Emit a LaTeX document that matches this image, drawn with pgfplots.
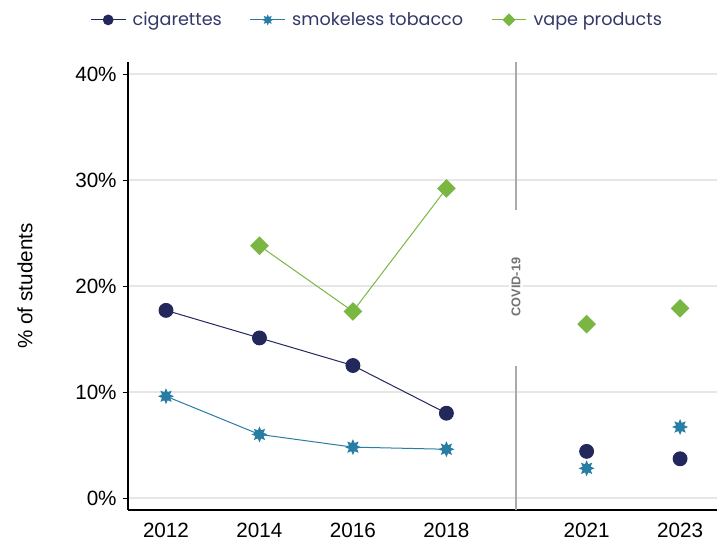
\documentclass[border=0pt]{standalone}
\usepackage{fontspec}
\setmainfont{Liberation Sans}
\newfontfamily\legfont{Poppins}
\usepackage{pgfplots}
\pgfplotsset{compat=1.18}
\usetikzlibrary{plotmarks}
\definecolor{cig}{RGB}{35,40,92}
\definecolor{legtext}{RGB}{50,56,104}
\definecolor{smk}{RGB}{40,125,165}
\definecolor{vape}{RGB}{122,182,66}
\definecolor{gridc}{RGB}{230,230,230}
\definecolor{covid}{RGB}{170,170,170}
\pgfdeclareplotmark{star8}{%
\pgfpathmoveto{\pgfpointpolar{90}{\pgfplotmarksize}}%
\pgfpathlineto{\pgfpointpolar{112.5}{0.55\pgfplotmarksize}}%
\pgfpathlineto{\pgfpointpolar{135}{\pgfplotmarksize}}%
\pgfpathlineto{\pgfpointpolar{157.5}{0.55\pgfplotmarksize}}%
\pgfpathlineto{\pgfpointpolar{180}{\pgfplotmarksize}}%
\pgfpathlineto{\pgfpointpolar{202.5}{0.55\pgfplotmarksize}}%
\pgfpathlineto{\pgfpointpolar{225}{\pgfplotmarksize}}%
\pgfpathlineto{\pgfpointpolar{247.5}{0.55\pgfplotmarksize}}%
\pgfpathlineto{\pgfpointpolar{270}{\pgfplotmarksize}}%
\pgfpathlineto{\pgfpointpolar{292.5}{0.55\pgfplotmarksize}}%
\pgfpathlineto{\pgfpointpolar{315}{\pgfplotmarksize}}%
\pgfpathlineto{\pgfpointpolar{337.5}{0.55\pgfplotmarksize}}%
\pgfpathlineto{\pgfpointpolar{0}{\pgfplotmarksize}}%
\pgfpathlineto{\pgfpointpolar{22.5}{0.55\pgfplotmarksize}}%
\pgfpathlineto{\pgfpointpolar{45}{\pgfplotmarksize}}%
\pgfpathlineto{\pgfpointpolar{67.5}{0.55\pgfplotmarksize}}%
\pgfpathclose
\pgfusepathqfill}
\pgfdeclareplotmark{sdiamond}{%
\pgfpathmoveto{\pgfqpoint{0pt}{\pgfplotmarksize}}%
\pgfpathlineto{\pgfqpoint{\pgfplotmarksize}{0pt}}%
\pgfpathlineto{\pgfqpoint{0pt}{-\pgfplotmarksize}}%
\pgfpathlineto{\pgfqpoint{-\pgfplotmarksize}{0pt}}%
\pgfpathclose
\pgfusepathqfill}
\begin{document}
\begin{tikzpicture}
\begin{axis}[
  name=ax,
  scale only axis,
  width=441.75pt, height=336pt,
  xmin=2011.187, xmax=2023.79,
  ymin=-1.13, ymax=41.13,
  axis lines=left,
  axis line style={-, black, line width=0.8pt},
  xtick={2012,2014,2016,2018,2021,2023},
  xticklabels={2012,2014,2016,2018,2021,2023},
  ytick={0,10,20,30,40},
  yticklabels={0\%,10\%,20\%,30\%,40\%},
  x tick style={draw=none},
  y tick style={black, line width=0.6pt},
  tick align=outside,
  major tick length=4pt,
  ymajorgrids,
  grid style={gridc, line width=1.1pt},
  tick label style={font=\fontsize{15.5}{18}\selectfont},
  xticklabel style={yshift=-2pt},
  yticklabel style={xshift=-1pt},
  ylabel={\% of students},
  ylabel style={at={(axis description cs:-0.175,0.5)}, anchor=center, font=\fontsize{15.5}{18}\selectfont},
  unbounded coords=jump,
  clip=false,
  legend columns=3,
  legend style={at={(0.4236,1.094)}, anchor=center, draw=none, fill=none,
    font=\legfont\fontsize{13.2}{16}\selectfont, text=legtext,
    /tikz/every even column/.append style={column sep=19pt}},
  legend cell align=left,
  legend image code/.code={%
    \draw[mark repeat=2,mark phase=2,#1,mark size=0.7\pgfplotmarksize] plot coordinates {(0pt,0pt) (13pt,0pt) (26pt,0pt)};
    \path (29pt,0pt);},
]
% COVID separator
\draw[covid, line width=1pt] (axis cs:2019.49,-1.13) -- (axis cs:2019.49,12.5);
\draw[covid, line width=1pt] (axis cs:2019.49,27.2) -- (axis cs:2019.49,41.13);
\node[rotate=90, fill=white, inner sep=2pt, text=black!55, font=\bfseries\fontsize{9.5}{11}\selectfont] at (axis cs:2019.49,19.9) {COVID-19};

\addplot[cig, line width=0.75pt, mark=*, mark size=5.2pt] coordinates {
 (2012,17.7) (2014,15.1) (2016,12.5) (2018,8.0) (2019.5,nan) (2021,4.4) (2022,nan) (2023,3.7)};
\addlegendentry{cigarettes}
\addplot[smk, line width=0.75pt, mark=star8, mark size=6pt] coordinates {
 (2012,9.6) (2014,6.0) (2016,4.8) (2018,4.6) (2019.5,nan) (2021,2.8) (2022,nan) (2023,6.7)};
\addlegendentry{smokeless tobacco}
\addplot[vape, line width=0.75pt, mark=sdiamond, mark size=7pt] coordinates {
 (2014,23.8) (2016,17.6) (2018,29.2) (2019.5,nan) (2021,16.4) (2022,nan) (2023,17.9)};
\addlegendentry{vape products}
\end{axis}
\path[use as bounding box] ([xshift=-96pt,yshift=-22.5pt]ax.south west) rectangle ([xshift=7.5pt,yshift=46.5pt]ax.north east);
\end{tikzpicture}
\end{document}
